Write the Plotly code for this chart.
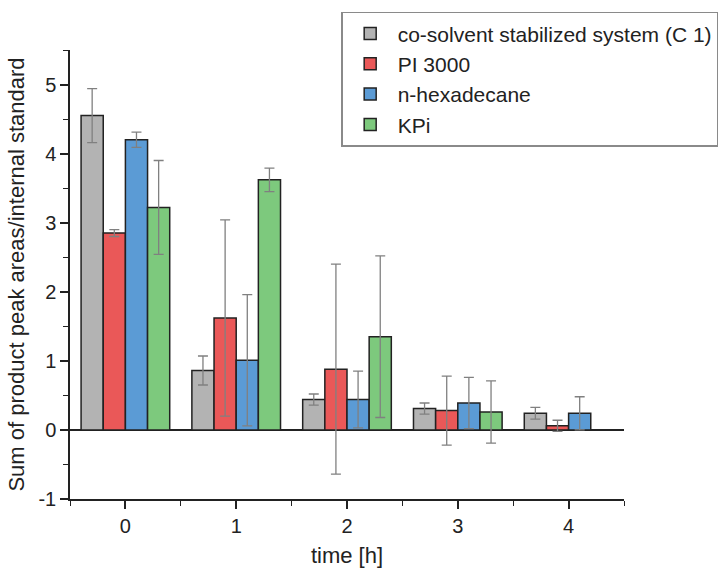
import plotly.graph_objects as go

times = [0, 1, 2, 3, 4]
series_names = ["co-solvent stabilized system (C 1)", "PI 3000", "n-hexadecane", "KPi"]
cosolvent = [4.55, 0.86, 0.44, 0.31, 0.24]
cosolvent_err = [0.39, 0.21, 0.08, 0.08, 0.085]
pi3000 = [2.85, 1.62, 0.88, 0.28, 0.06]
pi3000_err = [0.05, 1.42, 1.52, 0.50, 0.08]
hexadecane = [4.20, 1.01, 0.44, 0.39, 0.24]
hexadecane_err = [0.11, 0.95, 0.41, 0.37, 0.24]
kpi = [3.22, 3.62, 1.35, 0.26, None]
kpi_err = [0.68, 0.17, 1.17, 0.45, None]
y_ticks = [-1, 0, 1, 2, 3, 4, 5]
y_ticklabels = ["-1", "0", "1", "2", "3", "4", "5"]

colors = ["#b3b3b3", "#ea5858", "#5b9bd5", "#7dc97d"]
values = [cosolvent, pi3000, hexadecane, kpi]
errors = [cosolvent_err, pi3000_err, hexadecane_err, kpi_err]

font_family = "Arial, Liberation Sans, sans-serif"

fig = go.Figure()
for name, col, v, e in zip(series_names, colors, values, errors):
    fig.add_trace(go.Bar(
        x=times, y=v, name=name,
        marker=dict(color=col, line=dict(color="#222222", width=1.5)),
        error_y=dict(type="data", array=e, visible=True, color="#808080",
                     thickness=1.3, width=5),
    ))

fig.update_layout(
    width=725, height=569,
    margin=dict(l=70, r=101, t=50, b=70, autoexpand=False),
    paper_bgcolor="white", plot_bgcolor="white",
    barmode="group", bargap=0.2, bargroupgap=0,
    font=dict(family=font_family, size=20, color="#222222"),
    legend=dict(
        x=1.17, xanchor="right", y=1.085, yanchor="top",
        bordercolor="#8a8a8a", borderwidth=1.5, bgcolor="white",
        font=dict(size=21, family=font_family, color="#222222"),
        itemwidth=45, tracegroupgap=0,
    ),
    showlegend=True,
)
fig.update_xaxes(
    range=[-0.5, 4.5], tickvals=times, ticktext=[str(t) for t in times],
    showline=True, linecolor="#222222", linewidth=1.5,
    ticks="outside", ticklen=8, tickwidth=1.5, tickcolor="#222222",
    minor=dict(dtick=0.5, ticks="outside", ticklen=5, tickwidth=1.2, tickcolor="#222222"),
    showgrid=False, zeroline=False, automargin=False,
    title=dict(text="time [h]", font=dict(size=22), standoff=12),
    tickfont=dict(size=20),
)
fig.update_yaxes(
    range=[-1, 5.5], tickvals=y_ticks, ticktext=y_ticklabels,
    showline=True, linecolor="#222222", linewidth=1.5,
    ticks="outside", ticklen=8, tickwidth=1.5, tickcolor="#222222",
    minor=dict(dtick=0.5, tick0=0, ticks="outside", ticklen=5, tickwidth=1.2, tickcolor="#222222"),
    showgrid=False, zeroline=True, zerolinecolor="#222222", zerolinewidth=1.5,
    automargin=False,
    title=dict(text="Sum of product peak areas/internal standard", font=dict(size=22), standoff=8),
    tickfont=dict(size=20),
)

fig.write_html("out.html")
